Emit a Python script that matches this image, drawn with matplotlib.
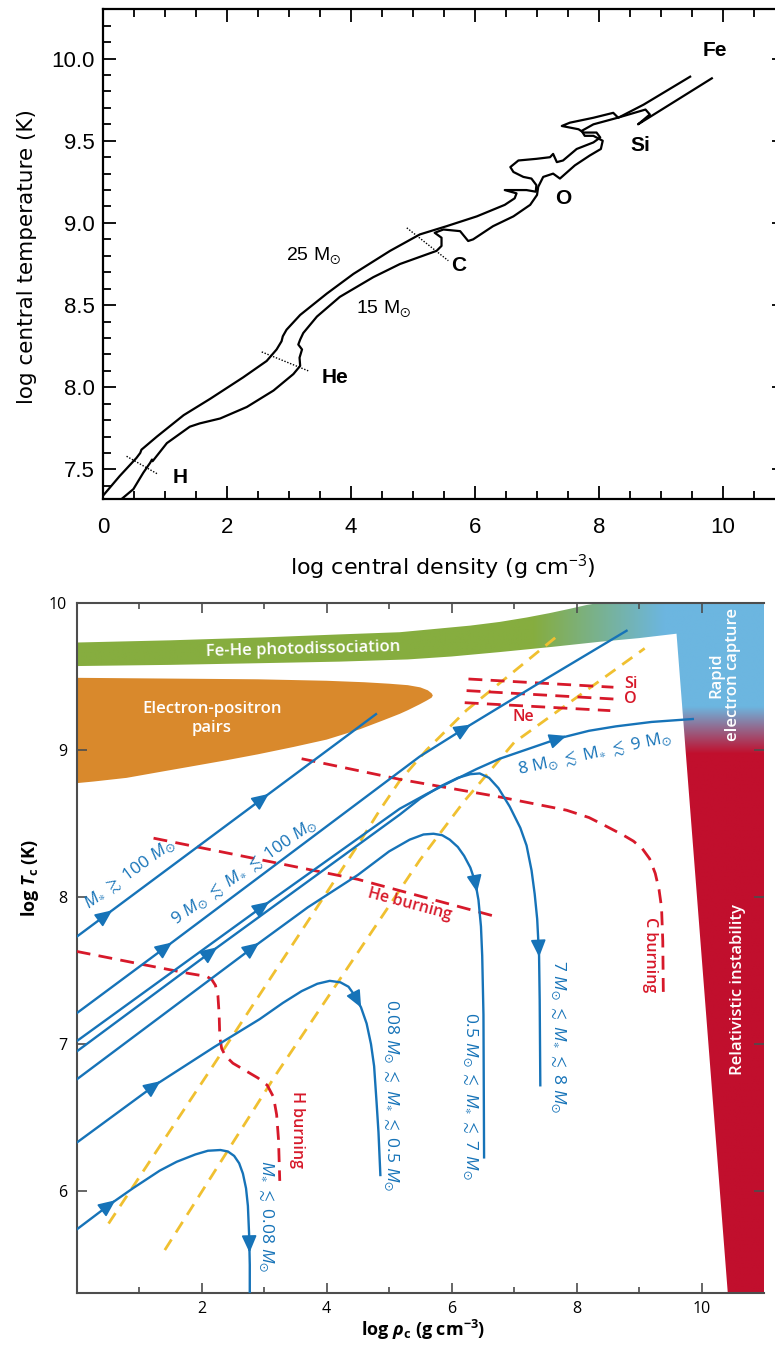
import numpy as np
import matplotlib
matplotlib.use("Agg")
import matplotlib.pyplot as plt
from matplotlib.patches import Polygon
from matplotlib.ticker import MultipleLocator, FixedLocator

plt.rcParams['mathtext.fontset'] = 'custom'
plt.rcParams['mathtext.rm'] = 'Open Sans'
plt.rcParams['mathtext.it'] = 'Open Sans:italic'
plt.rcParams['mathtext.bf'] = 'Open Sans:bold'
try:
    plt.rcParams['mathtext.bfit'] = 'Open Sans:italic:bold'
except KeyError:
    pass
plt.rcParams['mathtext.fallback'] = 'stixsans'
plt.rcParams['lines.scale_dashes'] = False

# ---------------------------------------------------------------- top panel data
# central density / temperature evolution of 25 and 15 solar-mass stars
track25_x = [0.00, 0.27, 0.54, 0.60, 0.62, 0.87, 1.30, 1.73, 2.26, 2.64, 2.80, 2.88, 2.90,
             2.96, 3.18, 3.61, 4.04, 4.63, 5.11, 5.54, 6.03, 6.48, 6.64, 6.67, 6.48, 6.83,
             6.98, 6.99, 6.91, 6.78, 6.62, 6.57, 6.70, 6.99, 7.21, 7.26, 7.32, 7.42, 7.64,
             7.91, 8.02, 7.96, 7.75, 7.67, 7.40, 7.53, 7.91, 8.23, 8.31, 8.72, 9.47]
track25_y = [7.34, 7.46, 7.57, 7.60, 7.62, 7.70, 7.83, 7.93, 8.06, 8.16, 8.23, 8.28, 8.31,
             8.35, 8.44, 8.57, 8.69, 8.83, 8.93, 8.98, 9.04, 9.11, 9.15, 9.18, 9.20, 9.20,
             9.19, 9.23, 9.27, 9.28, 9.31, 9.34, 9.38, 9.39, 9.40, 9.42, 9.37, 9.38, 9.45,
             9.49, 9.52, 9.55, 9.55, 9.57, 9.59, 9.61, 9.64, 9.67, 9.64, 9.72, 9.89]
track15_x = [0.30, 0.49, 0.65, 0.76, 0.79, 0.80, 1.03, 1.40, 1.56, 1.89, 2.32, 2.75, 3.07,
             3.18, 3.17, 3.21, 3.15, 3.18, 3.23, 3.45, 3.82, 4.36, 4.79, 5.38, 5.46, 5.46,
             5.35, 5.49, 5.76, 5.89, 5.97, 6.29, 6.62, 6.89, 7.00, 7.02, 7.10, 7.26, 7.37,
             7.61, 7.85, 8.03, 8.06, 7.91, 7.77, 7.72, 7.91, 8.30, 8.75, 8.82, 8.63, 9.82]
track15_y = [7.32, 7.38, 7.48, 7.54, 7.56, 7.55, 7.66, 7.76, 7.78, 7.81, 7.88, 7.98, 8.08,
             8.13, 8.18, 8.23, 8.26, 8.29, 8.33, 8.43, 8.55, 8.67, 8.75, 8.83, 8.86, 8.91,
             8.94, 8.96, 8.95, 8.89, 8.90, 8.98, 9.04, 9.11, 9.17, 9.22, 9.28, 9.30, 9.27,
             9.35, 9.41, 9.45, 9.50, 9.53, 9.53, 9.56, 9.60, 9.64, 9.69, 9.66, 9.60, 9.88]
# ignition markers (dotted) and labels
ignition_x = [(0.38, 0.89), (2.56, 3.31), (4.90, 5.57)]
ignition_y = [(7.58, 7.47), (8.215, 8.10), (8.97, 8.77)]
fuel_names = ["H", "He", "C", "O", "Si", "Fe"]
fuel_x = [1.24, 3.74, 5.74, 7.42, 8.66, 9.87]
fuel_y = [7.45, 8.06, 8.74, 9.15, 9.47, 10.05]
mass_labels = ["25 M$_{\\odot}$", "15 M$_{\\odot}$"]
mass_x = [3.39, 4.52]
mass_y = [8.80, 8.48]

# ---------------------------------------------------------------- bottom panel data
# evolutionary tracks (log rho_c, log T_c)
trkA_x = [0.0, 4.79]
trkA_y = [7.73, 9.243]
trkB_x = [0.0, 1.44, 5.49, 6.21, 7.50, 8.80]
trkB_y = [7.21, 7.664, 8.955, 9.147, 9.48, 9.81]
trkC_x = [0.0, 2.99, 5.17, 5.60, 5.97, 6.40, 6.77, 7.25, 7.73, 8.20, 8.63, 9.20, 9.86]
trkC_y = [7.02, 7.94, 8.60, 8.70, 8.78, 8.87, 8.94, 9.01, 9.08, 9.13, 9.16, 9.19, 9.21]
trkD_x = [0.0, 2.16, 5.17, 5.50, 5.81, 6.10, 6.30, 6.45, 6.60, 6.75, 6.93, 7.10, 7.20,
          7.28, 7.33, 7.37, 7.40, 7.41, 7.42]
trkD_y = [6.95, 7.63, 8.56, 8.67, 8.75, 8.81, 8.835, 8.84, 8.81, 8.74, 8.615, 8.47, 8.35,
          8.18, 8.02, 7.85, 7.60, 7.30, 6.72]
trkE_x = [0.0, 2.83, 3.70, 4.50, 5.00, 5.33, 5.55, 5.71, 5.85, 5.97, 6.10, 6.20, 6.30,
          6.38, 6.43, 6.47, 6.49, 6.51, 6.52]
trkE_y = [6.76, 7.66, 7.93, 8.15, 8.31, 8.39, 8.425, 8.43, 8.42, 8.39, 8.34, 8.28, 8.20,
          8.10, 7.98, 7.80, 7.60, 7.20, 6.23]
trkF_x = [0.0, 1.25, 2.20, 2.93, 3.30, 3.60, 3.85, 4.05, 4.22, 4.35, 4.45, 4.55, 4.64,
          4.71, 4.76, 4.80, 4.83, 4.86]
trkF_y = [6.33, 6.72, 6.98, 7.17, 7.28, 7.36, 7.41, 7.43, 7.42, 7.39, 7.33, 7.25, 7.14,
          7.00, 6.85, 6.60, 6.40, 6.11]
trkG_x = [0.0, 0.53, 0.90, 1.33, 1.60, 1.90, 2.10, 2.30, 2.42, 2.52, 2.60, 2.66, 2.71,
          2.74, 2.76, 2.77, 2.77]
trkG_y = [5.74, 5.91, 6.02, 6.14, 6.20, 6.25, 6.275, 6.28, 6.27, 6.24, 6.19, 6.12, 6.02,
          5.90, 5.70, 5.50, 5.31]

# arrowheads along each track
arrA = [(0.48, 7.88), (2.99, 8.67)]
arrB = [(1.44, 7.66), (6.21, 9.15)]
arrC = [(2.99, 7.94), (7.73, 9.08)]
arrD = [(2.16, 7.63), (7.41, 7.64)]
arrE = [(2.83, 7.66), (6.40, 8.08)]
arrF = [(1.25, 6.72), (4.50, 7.29)]
arrG = [(0.53, 5.91), (2.76, 5.63)]

# burning lines
hburn_x = [0.0, 1.07, 1.80, 2.08, 2.16, 2.22, 2.26, 2.28, 2.29, 2.32, 2.38, 2.50, 2.70,
           2.90, 3.05, 3.15, 3.20, 3.23, 3.25]
hburn_y = [7.63, 7.54, 7.48, 7.46, 7.44, 7.40, 7.33, 7.20, 7.05, 6.97, 6.92, 6.87, 6.82,
           6.77, 6.72, 6.64, 6.52, 6.35, 6.07]
heburn_x = [1.23, 4.50, 6.77]
heburn_y = [8.40, 8.12, 7.86]
cburn_x = [3.60, 5.17, 6.77, 7.84, 8.20, 8.48, 8.75, 8.91, 9.05, 9.17, 9.26, 9.32, 9.36,
           9.38, 9.39]
cburn_y = [8.94, 8.80, 8.68, 8.59, 8.54, 8.48, 8.42, 8.38, 8.33, 8.26, 8.16, 8.05, 7.93,
           7.70, 7.30]
ne_x, ne_y = [6.21, 8.54], [9.321, 9.267]
o_x, o_y = [6.24, 8.59], [9.403, 9.346]
si_x, si_y = [6.27, 8.59], [9.482, 9.426]

# degeneracy boundaries
deg1_x = [0.51, 2.10, 4.48, 4.85, 5.17, 5.60, 6.24, 7.68]
deg1_y = [5.78, 6.80, 8.34, 8.59, 8.79, 9.00, 9.27, 9.77]
deg2_x = [1.41, 3.20, 5.49, 6.20, 7.00, 9.09]
deg2_y = [5.60, 6.80, 8.25, 8.65, 9.05, 9.69]

# instability regions
pairs_x = [0.0, 2.9, 4.0, 4.6, 5.0, 5.3, 5.5, 5.62, 5.68, 5.70, 5.68, 5.60, 5.49, 5.30,
           5.17, 4.90, 4.53, 4.00, 3.47, 2.90, 2.40, 1.80, 1.33, 0.80, 0.27, 0.0]
pairs_y = [9.49, 9.48, 9.47, 9.46, 9.45, 9.44, 9.425, 9.405, 9.385, 9.37, 9.355, 9.335,
           9.31, 9.27, 9.245, 9.20, 9.14, 9.07, 9.02, 8.97, 8.93, 8.885, 8.85, 8.81, 8.785, 8.774]
photo_low_x = [0.0, 1.5, 3.0, 4.2, 5.3, 6.0, 6.77, 7.6, 8.37, 9.0, 9.60]
photo_low_y = [9.57, 9.578, 9.59, 9.60, 9.615, 9.635, 9.665, 9.70, 9.735, 9.76, 9.79]
photo_up_x = [0.0, 1.5, 3.0, 4.2, 5.17, 5.8, 6.3, 6.77, 7.2, 7.57, 7.9, 8.16, 8.37]
photo_up_y = [9.73, 9.745, 9.765, 9.785, 9.80, 9.825, 9.845, 9.87, 9.90, 9.93, 9.96, 9.985, 10.0]
capture_edge_x = [9.60, 10.42]
capture_edge_y = [9.79, 5.31]

C_TRACK = '#1673b8'
C_RED = '#d7192a'
C_YEL = '#f0c030'
C_GREEN = np.array([134, 173, 63]) / 255
C_LBLUE = np.array([108, 182, 224]) / 255
C_DRED = np.array([193, 15, 45]) / 255
C_ORANGE = '#d9892c'

fig = plt.figure(figsize=(7.75, 13.53), dpi=100)

# ================================================================ top panel
ax1 = fig.add_axes([103 / 775, 1 - 499 / 1353, (785 - 103) / 775, (499 - 9.3) / 1353])
ax1.set_xlim(0, 11)
ax1.set_ylim(7.32, 10.3)
for tx, ty in ((track25_x, track25_y), (track15_x, track15_y)):
    ax1.plot(tx, ty, color='black', lw=1.6, solid_joinstyle='round', zorder=3)
for (x0, x1), (y0, y1) in zip(ignition_x, ignition_y):
    ax1.plot([x0, x1], [y0, y1], color='black', lw=1.0, ls=(0, (1, 1.2)), zorder=2)
for name, fx, fy in zip(fuel_names, fuel_x, fuel_y):
    ax1.text(fx, fy, name, fontsize=15, fontweight='bold', family='Liberation Sans',
             ha='center', va='center')
for lab, mx, my in zip(mass_labels, mass_x, mass_y):
    ax1.text(mx, my, lab, fontsize=14, family='Liberation Sans', ha='center', va='center')

ax1.xaxis.set_major_locator(MultipleLocator(2))
ax1.xaxis.set_minor_locator(MultipleLocator(0.5))
ax1.yaxis.set_major_locator(MultipleLocator(0.5))
ax1.yaxis.set_minor_locator(MultipleLocator(0.1))
ax1.yaxis.set_major_formatter(plt.FormatStrFormatter('%.1f'))
ax1.tick_params(which='both', direction='in', top=True, right=True, width=1.3, color='black')
ax1.tick_params(which='major', length=9.5)
ax1.tick_params(which='minor', length=5.5)
ax1.tick_params(axis='x', pad=13)
ax1.tick_params(axis='y', pad=6)
for lab in ax1.get_xticklabels() + ax1.get_yticklabels():
    lab.set_family('Liberation Sans')
    lab.set_fontsize(16)
for sp in ax1.spines.values():
    sp.set_linewidth(1.6)
fig.text(27 / 775, 1 - 257 / 1353, 'log central temperature (K)', rotation=90,
         ha='center', va='center', fontsize=15.5, family='DejaVu Sans')
fig.text(443 / 775, 1 - 567 / 1353, 'log central density (g cm$^{-3}$)',
         ha='center', va='center', fontsize=16, family='DejaVu Sans')

# ================================================================ bottom panel
ax2 = fig.add_axes([76.7 / 775, 1 - 1292.7 / 1353, (764 - 76.7) / 775, (1292.7 - 602.8) / 1353])
XMIN, XMAX, YMIN, YMAX = 0, 11, 5.31, 10
ax2.set_xlim(XMIN, XMAX)
ax2.set_ylim(YMIN, YMAX)

# shaded instability region: photodissociation band + electron capture + relativistic
region = list(zip(photo_low_x, photo_low_y)) + [(capture_edge_x[1], capture_edge_y[1]),
          (XMAX, YMIN), (XMAX, YMAX)] + list(zip(photo_up_x, photo_up_y))[::-1]
clip = Polygon(region, closed=True, facecolor='none', edgecolor='none')
ax2.add_patch(clip)
gx = np.linspace(XMIN, XMAX, 660)
gy = np.linspace(YMIN, YMAX, 480)
GX, GY = np.meshgrid(gx, gy)
sx = np.clip((GX - 7.3) / (9.4 - 7.3), 0, 1)[..., None]
sy = np.clip((9.3 - GY) / (9.3 - 8.98), 0, 1)[..., None]
rgb = C_GREEN * (1 - sx) + C_LBLUE * sx
rgb = rgb * (1 - sy) + C_DRED * sy
im = ax2.imshow(rgb, extent=(XMIN, XMAX, YMIN, YMAX), origin='lower', aspect='auto',
                interpolation='bilinear', zorder=1)
im.set_clip_path(clip)
ax2.add_patch(Polygon(list(zip(pairs_x, pairs_y)), closed=True, facecolor=C_ORANGE,
                      edgecolor='none', zorder=1))
ax2.set_xlim(XMIN, XMAX)
ax2.set_ylim(YMIN, YMAX)

# degeneracy lines
for dx, dy in ((deg1_x, deg1_y), (deg2_x, deg2_y)):
    ax2.plot(dx, dy, color=C_YEL, lw=2.0, dashes=(9, 6), zorder=2)
# burning lines
for bx, by in ((hburn_x, hburn_y), (heburn_x, heburn_y), (cburn_x, cburn_y),
               (ne_x, ne_y), (o_x, o_y), (si_x, si_y)):
    ax2.plot(bx, by, color=C_RED, lw=2.0, dashes=(10, 6), zorder=3)

tracks = [(trkA_x, trkA_y, arrA), (trkB_x, trkB_y, arrB), (trkC_x, trkC_y, arrC),
          (trkD_x, trkD_y, arrD), (trkE_x, trkE_y, arrE), (trkF_x, trkF_y, arrF),
          (trkG_x, trkG_y, arrG)]


def add_arrow(ax, xs, ys, pt):
    disp = ax.transData.transform(np.column_stack([xs, ys]))
    tgt = ax.transData.transform(pt)
    best, bi = 1e9, 0
    for i in range(len(disp) - 1):
        a, b = disp[i], disp[i + 1]
        ab = b - a
        t = np.clip(np.dot(tgt - a, ab) / max(np.dot(ab, ab), 1e-9), 0, 1)
        d = np.linalg.norm(a + t * ab - tgt)
        if d < best:
            best, bi = d, i
    a, b = disp[bi], disp[bi + 1]
    ab = b - a
    t = np.clip(np.dot(tgt - a, ab) / np.dot(ab, ab), 0, 1)
    tip = a + t * ab
    u = ab / np.linalg.norm(ab)
    inv = ax.transData.inverted()
    head = inv.transform(tip + u * 7)
    tail = inv.transform(tip - u * 7)
    ax.annotate('', xy=head, xytext=tail, zorder=5,
                arrowprops=dict(arrowstyle='-|>,head_length=0.95,head_width=0.42',
                                mutation_scale=11, color=C_TRACK, lw=1.2,
                                shrinkA=0, shrinkB=0))


for tx, ty, arrs in tracks:
    ax2.plot(tx, ty, color=C_TRACK, lw=1.7, solid_joinstyle='round', zorder=4)
    for p in arrs:
        add_arrow(ax2, tx, ty, p)

# region labels
RFONT = 'Open Sans'
ax2.text(3.62, 9.685, 'Fe-He photodissociation', color='white', fontsize=12,
         family=RFONT, fontweight='semibold', ha='center', va='center', rotation=1.5, zorder=6)
ax2.text(2.16, 9.215, 'Electron-positron\npairs', color='white', fontsize=12,
         family=RFONT, fontweight='semibold', ha='center', va='center', linespacing=1.25, zorder=6)
ax2.text(10.37, 9.51, 'Rapid\nelectron capture', color='white', fontsize=12,
         family=RFONT, fontweight='semibold', ha='center', va='center', rotation=90,
         linespacing=1.1, zorder=6)
ax2.text(10.59, 7.37, 'Relativistic instability', color='white', fontsize=12,
         family=RFONT, fontweight='semibold', ha='center', va='center', rotation=90, zorder=6)

# burning labels
ax2.text(5.33, 7.95, 'He burning', color=C_RED, fontsize=11.5, family=RFONT,
         fontweight='semibold', ha='center', va='center', rotation=-15, zorder=6)
ax2.text(3.52, 6.42, 'H burning', color=C_RED, fontsize=11.5, family=RFONT,
         fontweight='semibold', ha='center', va='center', rotation=-90, zorder=6)
ax2.text(9.17, 7.61, 'C burning', color=C_RED, fontsize=11.5, family=RFONT,
         fontweight='semibold', ha='center', va='center', rotation=-90, zorder=6)
ax2.text(8.77, 9.445, 'Si', color=C_RED, fontsize=11.5, family=RFONT,
         fontweight='semibold', ha='left', va='center', zorder=6)
ax2.text(8.76, 9.345, 'O', color=C_RED, fontsize=11.5, family=RFONT,
         fontweight='semibold', ha='left', va='center', zorder=6)
ax2.text(7.15, 9.226, 'Ne', color=C_RED, fontsize=11.5, family=RFONT,
         fontweight='semibold', ha='center', va='center', zorder=6)

# mass-range labels
TFS = 12.5
ax2.text(0.86, 8.15, r'$M_{\ast}\;\gtrsim\;100\ M_{\odot}$', color=C_TRACK, fontsize=TFS,
         ha='center', va='center', rotation=36, zorder=6)
ax2.text(2.68, 8.17, r'$9\ M_{\odot}\;\lesssim\;M_{\ast}\;\lesssim\;100\ M_{\odot}$', color=C_TRACK,
         fontsize=TFS, ha='center', va='center', rotation=35, zorder=6)
ax2.text(8.30, 8.97, r'$8\ \mathrm{M}_{\odot}\;\lesssim\;\mathrm{M}_{\ast}\;\lesssim\;9\ \mathrm{M}_{\odot}$',
         color=C_TRACK, fontsize=TFS, ha='center', va='center', rotation=12, zorder=6)
ax2.text(7.69, 7.05, r'$7\ M_{\odot}\;\lesssim\;M_{\ast}\;\lesssim\;8\ M_{\odot}$', color=C_TRACK,
         fontsize=TFS, ha='center', va='center', rotation=-90, zorder=6)
ax2.text(6.29, 6.65, r'$0.5\ M_{\odot}\;\lesssim\;M_{\ast}\;\lesssim\;7\ M_{\odot}$', color=C_TRACK,
         fontsize=TFS, ha='center', va='center', rotation=-90, zorder=6)
ax2.text(5.03, 6.65, r'$0.08\ M_{\odot}\;\lesssim\;M_{\ast}\;\lesssim\;0.5\ M_{\odot}$', color=C_TRACK,
         fontsize=TFS, ha='center', va='center', rotation=-90, zorder=6)
ax2.text(3.03, 5.83, r'$M_{\ast}\;\lesssim\;0.08\ M_{\odot}$', color=C_TRACK,
         fontsize=TFS, ha='center', va='center', rotation=-90, zorder=6)

# axes styling
ax2.xaxis.set_major_locator(FixedLocator([2, 4, 6, 8, 10]))
ax2.xaxis.set_minor_locator(FixedLocator([1, 3, 5, 7, 9]))
ax2.yaxis.set_major_locator(FixedLocator([6, 7, 8, 9, 10]))
ax2.tick_params(which='both', direction='in', top=True, right=True, width=1.2, color='#4d4d4d',
                labelsize=11.5)
ax2.tick_params(which='major', length=7)
ax2.tick_params(which='minor', length=4)
ax2.tick_params(axis='x', pad=6)
ax2.tick_params(axis='y', pad=7)
for lab in ax2.get_xticklabels() + ax2.get_yticklabels():
    lab.set_family(RFONT)
for sp in ax2.spines.values():
    sp.set_linewidth(1.5)
    sp.set_color('#4d4d4d')
ax2.spines['right'].set_visible(False)
fig.text(30 / 775, 1 - 878 / 1353, r'log $\mathbfit{T}_{\mathbf{c}}$ (K)', rotation=90,
         ha='center', va='center', fontsize=13, family=RFONT, fontweight='bold')
fig.text(423 / 775, 1 - 1330 / 1353, r'log $\mathbfit{\rho}_{\mathbf{c}}$ (g cm$^{\mathbf{-3}}$)',
         ha='center', va='center', fontsize=13, family=RFONT, fontweight='bold')

fig.savefig('out.png', dpi=100)
